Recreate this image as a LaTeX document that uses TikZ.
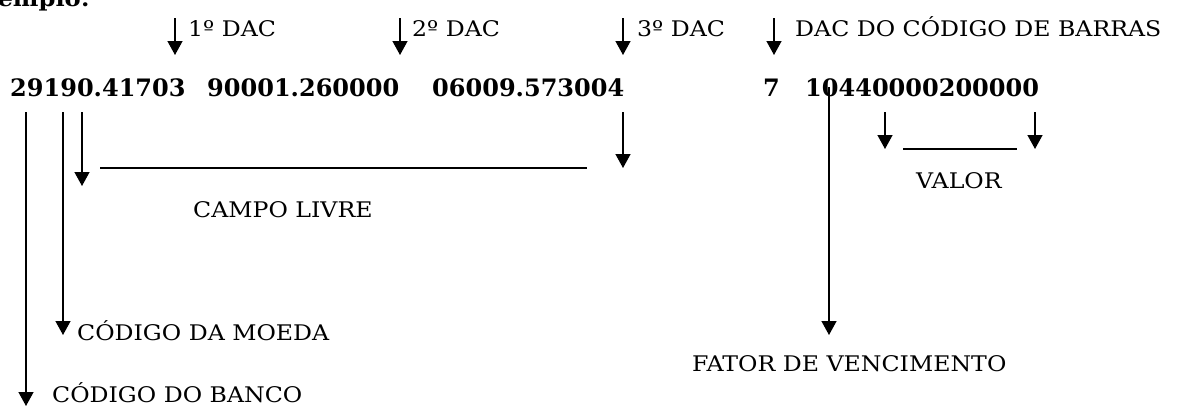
\documentclass[tikz,border=0pt]{standalone}
\usepackage{fontspec}
\setmainfont{DejaVu Serif}[FakeStretch=1.1]
\newfontfamily\numfont{DejaVu Serif}
\usetikzlibrary{arrows.meta}
\begin{document}
\begin{tikzpicture}[x=1pt,y=-1pt,
  lbl/.style={inner sep=0,anchor=base west,font=\fontsize{21.5}{25}\selectfont},
  num/.style={inner sep=0,anchor=base west,font=\numfont\bfseries\fontsize{24}{28}\selectfont},
  arr/.style={line width=1.4pt,-{Triangle[width=15pt,length=14pt]}},
  ln/.style={line width=1.4pt}]
\useasboundingbox (0,0) rectangle (1189,407);

% heading (clipped at the top of the page)
\node[inner sep=0,anchor=base east,font=\bfseries\fontsize{22}{26}\selectfont] (ex) at (90,6) {Exemplo:};

% top labels
\node[lbl] (d1) at (188,36) {1º DAC};
\node[lbl] (d2) at (412,36) {2º DAC};
\node[lbl] (d3) at (637,36) {3º DAC};
\node[lbl] (d4) at (795,36) {DAC DO CÓDIGO DE BARRAS};

% numbers
\node[num] (n1) at (10,96) {29190.41703};
\node[num] (n2) at (207,96) {90001.260000};
\node[num] (n3) at (432,96) {06009.573004};
\node[num] (n4) at (763,96) {7};
\node[num] (n5) at (805,96) {10440000200000};

% lower labels
\node[lbl] (campo) at (193,217) {CAMPO LIVRE};
\node[lbl] (valor) at (916,188) {VALOR};
\node[lbl] (moeda) at (77,340) {CÓDIGO DA MOEDA};
\node[lbl] (fator) at (692,371) {FATOR DE VENCIMENTO};
\node[lbl] (banco) at (52,402) {CÓDIGO DO BANCO};

% coordinates
\coordinate (a1s) at (175,18);  \coordinate (a1e) at (175,55);
\coordinate (a2s) at (400,18);  \coordinate (a2e) at (400,55);
\coordinate (a3s) at (623,18);  \coordinate (a3e) at (623,55);
\coordinate (a4s) at (774,18);  \coordinate (a4e) at (774,55);
\coordinate (bs) at (26,112);   \coordinate (be) at (26,406);
\coordinate (ms) at (63,112);   \coordinate (me) at (63,335);
\coordinate (cls) at (82,112);  \coordinate (cle) at (82,186);
\coordinate (crs) at (623,112); \coordinate (cre) at (623,168);
\coordinate (hls) at (100,168); \coordinate (hle) at (587,168);
\coordinate (fs) at (829,87);   \coordinate (fe) at (829,335);
\coordinate (vls) at (885,112); \coordinate (vle) at (885,149);
\coordinate (vrs) at (1035,112);\coordinate (vre) at (1035,149);
\coordinate (vhs) at (903,149); \coordinate (vhe) at (1017,149);

% connectors
\draw[arr] (a1s) -- (a1e);
\draw[arr] (a2s) -- (a2e);
\draw[arr] (a3s) -- (a3e);
\draw[arr] (a4s) -- (a4e);
\draw[arr] (bs) -- (be);
\draw[arr] (ms) -- (me);
\draw[arr] (cls) -- (cle);
\draw[arr] (crs) -- (cre);
\draw[ln] (hls) -- (hle);
\draw[arr] (fs) -- (fe);
\draw[arr] (vls) -- (vle);
\draw[arr] (vrs) -- (vre);
\draw[ln] (vhs) -- (vhe);
\end{tikzpicture}
\end{document}
